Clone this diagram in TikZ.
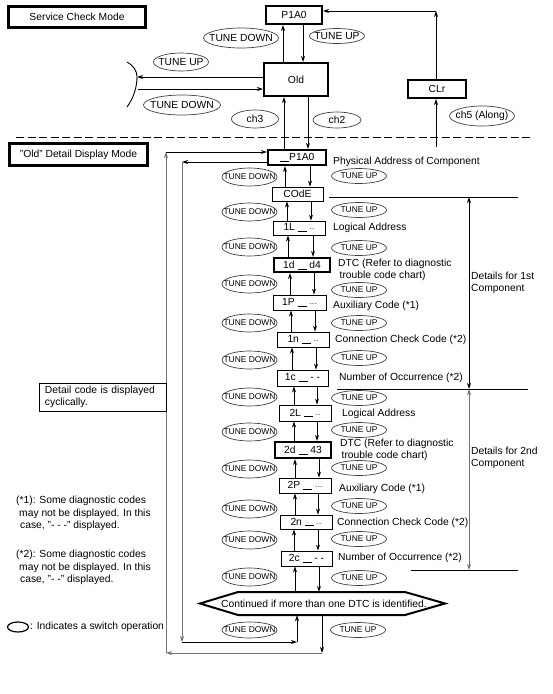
\documentclass[tikz,border=0pt]{standalone}
\usepackage{fontspec}
\setmainfont{Liberation Sans}
\usetikzlibrary{shapes.geometric,arrows.meta}

\newlength{\du}
\setlength{\du}{1pt}
\newcommand{\gap}{\rule[-1.2\du]{9\du}{0.8\du}}
\newcommand{\dsh}[1]{{\fontsize{6}{6}\selectfont #1}}
\newcommand{\sw}[1]{\makebox[0pt]{#1}}
\definecolor{dialinecolor}{rgb}{0.000000, 0.000000, 0.000000}
\definecolor{loopgray}{rgb}{0.450000, 0.450000, 0.450000}

\tikzset{
  every node/.style={font=\fontsize{10.3}{12.3}\selectfont},
  arr/.style={-{Stealth[length=6pt,width=4pt]}, line width=0.9\du},
  arrboth/.style={{Stealth[length=6pt,width=4pt]}-{Stealth[length=6pt,width=4pt]}, line width=0.9\du},
  dispbox/.style={draw, line width=0.9\du, inner sep=0pt},
  topbox/.style={dispbox, line width=2\du},
  boldbox/.style={dispbox, line width=2.2\du},
  modebox/.style={dispbox, line width=2.8\du},
  switch/.style={ellipse, draw=black!75, line width=0.7\du, inner sep=0pt},
  bigsw/.style={switch},
  smallsw/.style={switch, minimum width=55\du, font=\fontsize{8.4}{9}\selectfont},
  note/.style={anchor=west, inner sep=0pt, align=left},
}

\begin{document}
\begin{tikzpicture}
\pgftransformxscale{1.000000}
\pgftransformyscale{-1.000000}
\useasboundingbox (0\du,0\du) rectangle (552\du,694\du);
% service check mode
\node[modebox, minimum width=137\du, minimum height=21\du] (svcmode) at (77\du,17\du){Service Check Mode};
\node[topbox, minimum width=56\du, minimum height=18\du] (p1a0) at (294\du,15\du){P1A0};
\node[topbox, minimum width=64\du, minimum height=33\du] (old) at (296\du,79.5\du){Old};
\node[topbox, minimum width=58\du, minimum height=18\du] (clr) at (437\du,89\du){CLr};
\node[bigsw, minimum width=75\du, minimum height=20\du] (tdtop) at (241\du,38\du){\sw{TUNE DOWN}};
\node[bigsw, minimum width=55\du, minimum height=15\du] (tutop) at (337\du,36\du){\sw{TUNE UP}};
\node[bigsw, minimum width=55\du, minimum height=18\du] (tuleft) at (181\du,62\du){\sw{TUNE UP}};
\node[bigsw, minimum width=77\du, minimum height=20\du] (tdleft) at (182\du,105\du){\sw{TUNE DOWN}};
\node[bigsw, minimum width=47\du, minimum height=18\du] (chthree) at (255\du,119\du){\sw{ch3}};
\node[bigsw, minimum width=48\du, minimum height=16\du] (chtwo) at (337\du,120\du){\sw{ch2}};
\node[bigsw, minimum width=65\du, minimum height=20\du] (chfive) at (482\du,116\du){\sw{ch5 (Along)}};
\coordinate (brace) at (137\du,77\du);
\coordinate (bracelow) at (138\du,89\du);
\draw[line width=0.9\du] (127\du,62\du) .. controls (134\du,66\du) and (137\du,71\du) .. (brace) .. controls (137\du,88\du) and (133\du,99\du) .. (127\du,107\du);
\draw[arr] (old.west |- brace) -- (brace);
\draw[arr] (bracelow) -- (old.west |- bracelow);
\draw[arr] (283\du,0 |- old.north) -- (283\du,0 |- p1a0.south);
\draw[arr] (303\du,0 |- p1a0.south) -- (303\du,0 |- old.north);
\coordinate (clrturn) at (436\du,11\du);
\coordinate (clrin) at (436\du,147\du);
\draw[arr] (clrturn |- clr.north) -- (clrturn);
\draw[arr] (clrturn) -- (p1a0.east |- clrturn);
\draw[arr] (clrin) -- (clrin |- clr.south);
\draw[line width=0.9\du, dash pattern=on 8\du off 3.5\du] (16\du,137\du) -- (533\du,137\du);
% old detail display mode
\node[modebox, minimum width=138\du, minimum height=22\du] (oldmode) at (78.5\du,154.5\du){"Old" Detail Display Mode};
\node[boldbox, minimum width=58\du, minimum height=15\du] (p1a0d) at (297\du,157.5\du){\gap\kern0.5\du P1A0};
\node[dispbox, minimum width=51\du, minimum height=14\du] (code) at (297.5\du,194\du){COdE};
\node[dispbox, minimum width=52\du, minimum height=14\du] (onel) at (299\du,228\du){1L \gap{} \dsh{-\kern0.8\du-}};
\node[boldbox, minimum width=56\du, minimum height=14\du] (oned) at (302\du,265\du){1d \gap{} d4};
\node[dispbox, minimum width=53\du, minimum height=15\du] (onep) at (299.5\du,302.5\du){1P \gap{} \dsh{-\kern0.6\du-\kern0.6\du-}};
\node[dispbox, minimum width=52\du, minimum height=15\du] (onen) at (303\du,339.5\du){1n \gap{} \dsh{-\kern0.8\du-}};
\node[dispbox, minimum width=51\du, minimum height=16\du] (onec) at (302.5\du,378\du){1c \gap{} - -};
\node[dispbox, minimum width=52\du, minimum height=16\du] (twol) at (305\du,413\du){2L \gap{} \dsh{-\kern0.8\du-}};
\node[boldbox, minimum width=56\du, minimum height=16\du] (twod) at (303\du,450\du){2d \gap{} 43};
\node[dispbox, minimum width=52\du, minimum height=15\du] (twop) at (305\du,485.5\du){2P \gap{} \dsh{-\kern0.6\du-\kern0.6\du-}};
\node[dispbox, minimum width=52\du, minimum height=14\du] (twon) at (306\du,522\du){2n \gap{} \dsh{-\kern0.8\du-}};
\node[dispbox, minimum width=51\du, minimum height=15\du] (twoc) at (306.5\du,558.5\du){2c \gap{} - -};
\draw[line width=2\du, line join=miter] (200\du,603.5\du) -- (238\du,592\du) -- (405\du,592\du) -- (445\du,603.5\du) -- (405\du,615\du) -- (238\du,615\du) -- cycle;
\node[inner sep=0pt, minimum width=167\du, minimum height=23\du] (cont) at (324\du,603.5\du){Continued if more than one DTC is identified.};
\draw[arr] (284\du,0 |- p1a0d.north) -- (284\du,0 |- old.south);
\draw[arr] (308\du,0 |- old.south) -- (308\du,0 |- p1a0d.north);
\draw[arr] (285\du,0 |- code.north) -- (285\du,0 |- p1a0d.south);
\draw[arr] (310\du,0 |- p1a0d.south) -- (310\du,0 |- code.north);
\draw[arr] (287\du,0 |- onel.north) -- (287\du,0 |- code.south);
\draw[arr] (311\du,0 |- code.south) -- (311\du,0 |- onel.north);
\draw[arr] (288\du,0 |- oned.north) -- (288\du,0 |- onel.south);
\draw[arr] (313\du,0 |- onel.south) -- (313\du,0 |- oned.north);
\draw[arr] (290\du,0 |- onep.north) -- (290\du,0 |- oned.south);
\draw[arr] (314\du,0 |- oned.south) -- (314\du,0 |- onep.north);
\draw[arr] (291\du,0 |- onen.north) -- (291\du,0 |- onep.south);
\draw[arr] (315\du,0 |- onep.south) -- (315\du,0 |- onen.north);
\draw[arr] (292\du,0 |- onec.north) -- (292\du,0 |- onen.south);
\draw[arr] (316\du,0 |- onen.south) -- (316\du,0 |- onec.north);
\draw[arr] (294\du,0 |- twol.north) -- (294\du,0 |- onec.south);
\draw[arr] (317\du,0 |- onec.south) -- (317\du,0 |- twol.north);
\draw[arr] (294\du,0 |- twod.north) -- (294\du,0 |- twol.south);
\draw[arr] (317\du,0 |- twol.south) -- (317\du,0 |- twod.north);
\draw[arr] (295\du,0 |- twop.north) -- (295\du,0 |- twod.south);
\draw[arr] (319\du,0 |- twod.south) -- (319\du,0 |- twop.north);
\draw[arr] (295\du,0 |- twon.north) -- (295\du,0 |- twop.south);
\draw[arr] (318\du,0 |- twop.south) -- (318\du,0 |- twon.north);
\draw[arr] (294\du,0 |- twoc.north) -- (294\du,0 |- twon.south);
\draw[arr] (318\du,0 |- twon.south) -- (318\du,0 |- twoc.north);
\draw[arr] (295\du,0 |- cont.north) -- (295\du,0 |- twoc.south);
\draw[arr] (319\du,0 |- twoc.south) -- (319\du,0 |- cont.north);
% cyclic loops
\coordinate (outertop) at (166\du,152\du);
\coordinate (outerbot) at (166\du,653\du);
\coordinate (outerend) at (322\du,653\du);
\coordinate (innertop) at (182\du,162\du);
\coordinate (innerbot) at (182\du,642\du);
\coordinate (innerend) at (297\du,642\du);
\draw[arr] (outerend |- cont.south) -- (outerend);
\draw[arr, loopgray] (outerend) -- (outerbot);
\draw[arr, loopgray] (outerbot) -- (outertop);
\draw[arr] (outertop) -- (p1a0d.west |- outertop);
\draw[arr] (p1a0d.west |- innertop) -- (innertop);
\draw[arr, loopgray] (innertop) -- (innerbot);
\draw[arr] (innerbot) -- (innerend);
\draw[arr] (innerend) -- (innerend |- cont.south);
% switch operations
\node[smallsw, minimum height=18\du] (tdone) at (249.5\du,177\du){\sw{TUNE DOWN}};
\node[smallsw, minimum height=18\du] (tdtwo) at (249.5\du,212\du){\sw{TUNE DOWN}};
\node[smallsw, minimum height=18\du] (tdthree) at (249.5\du,247\du){\sw{TUNE DOWN}};
\node[smallsw, minimum height=18\du] (tdfour) at (249.5\du,284\du){\sw{TUNE DOWN}};
\node[smallsw, minimum height=18\du] (tdfive) at (249.5\du,323\du){\sw{TUNE DOWN}};
\node[smallsw, minimum height=18\du] (tdsix) at (249.5\du,360\du){\sw{TUNE DOWN}};
\node[smallsw, minimum height=18\du] (tdseven) at (249.5\du,397\du){\sw{TUNE DOWN}};
\node[smallsw, minimum height=18\du] (tdeight) at (249.5\du,432\du){\sw{TUNE DOWN}};
\node[smallsw, minimum height=18\du] (tdnine) at (249.5\du,469\du){\sw{TUNE DOWN}};
\node[smallsw, minimum height=18\du] (tdten) at (249.5\du,509\du){\sw{TUNE DOWN}};
\node[smallsw, minimum height=18\du] (tdeleven) at (249.5\du,540\du){\sw{TUNE DOWN}};
\node[smallsw, minimum height=18\du] (tdtwelve) at (249.5\du,577\du){\sw{TUNE DOWN}};
\node[smallsw, minimum height=16\du] (tdlast) at (249.5\du,630\du){\sw{TUNE DOWN}};
\node[smallsw, minimum height=15\du] (tuone) at (359\du,176\du){\sw{TUNE UP}};
\node[smallsw, minimum height=15\du] (tutwo) at (359\du,210\du){\sw{TUNE UP}};
\node[smallsw, minimum height=15\du] (tuthree) at (359\du,248\du){\sw{TUNE UP}};
\node[smallsw, minimum height=15\du] (tufour) at (359\du,290\du){\sw{TUNE UP}};
\node[smallsw, minimum height=15\du] (tufive) at (359\du,323\du){\sw{TUNE UP}};
\node[smallsw, minimum height=15\du] (tusix) at (359\du,358\du){\sw{TUNE UP}};
\node[smallsw, minimum height=15\du] (tuseven) at (359\du,398\du){\sw{TUNE UP}};
\node[smallsw, minimum height=15\du] (tueight) at (359\du,430\du){\sw{TUNE UP}};
\node[smallsw, minimum height=15\du] (tunine) at (359\du,468\du){\sw{TUNE UP}};
\node[smallsw, minimum height=15\du] (tuten) at (359\du,506\du){\sw{TUNE UP}};
\node[smallsw, minimum height=15\du] (tueleven) at (359\du,539\du){\sw{TUNE UP}};
\node[smallsw, minimum height=15\du] (tutwelve) at (359\du,578\du){\sw{TUNE UP}};
\node[smallsw, minimum height=15\du] (tulast) at (358\du,630\du){\sw{TUNE UP}};
% labels
\node[note] (physaddr) at (333\du,162\du){Physical Address of Component};
\node[note] (logone) at (333\du,228\du){Logical Address};
\node[note] (dtcone) at (338\du,270\du){DTC (Refer to diagnostic\\\hspace*{1.5\du}trouble code chart)};
\node[note] (auxone) at (333\du,306\du){Auxiliary Code (*1)};
\node[note] (conone) at (335\du,340\du){Connection Check Code (*2)};
\node[note] (numone) at (339\du,378\du){Number of Occurrence (*2)};
\node[note] (logtwo) at (342\du,414\du){Logical Address};
\node[note] (dtctwo) at (340\du,450\du){DTC (Refer to diagnostic\\\hspace*{1.5\du}trouble code chart)};
\node[note] (auxtwo) at (339\du,489\du){Auxiliary Code (*1)};
\node[note] (contwo) at (337\du,523\du){Connection Check Code (*2)};
\node[note] (numtwo) at (338\du,558\du){Number of Occurrence (*2)};
\coordinate (brtop) at (469\du,197\du);
\coordinate (brmid) at (469\du,389\du);
\coordinate (brbot) at (469\du,570\du);
\draw[line width=0.9\du] (329\du,197\du) -- (518\du,197\du);
\draw[line width=0.9\du] (337\du,389\du) -- (528\du,389\du);
\draw[line width=0.9\du] (411\du,570\du) -- (518\du,570\du);
\draw[arrboth] (brtop) -- (brmid);
\draw[arrboth, loopgray] (brmid) -- (brbot);
\node[note] (detone) at (471\du,282.5\du){Details for 1st\\Component};
\node[note] (dettwo) at (471\du,458\du){Details for 2nd\\Component};
% notes
\node[dispbox, text width=115\du, inner xsep=6\du, minimum height=28\du, align=left] (cyclic) at (102.5\du,397\du){Detail code is displayed\\cyclically.};
\node[note] (noteone) at (16\du,513.5\du){(*1): Some diagnostic codes\\\hspace*{3\du}may not be displayed. In this\\\hspace*{4\du}case, "- - -" displayed.};
\node[note] (notetwo) at (16\du,567.5\du){(*2): Some diagnostic codes\\\hspace*{3\du}may not be displayed. In this\\\hspace*{4\du}case, "- -" displayed.};
\node[ellipse, draw, line width=1.2\du, minimum width=21\du, minimum height=10\du, inner sep=0pt] (legend) at (18\du,627\du){};
\node[note] (legendtext) at (30\du,627\du){: Indicates a switch operation};
\end{tikzpicture}
\end{document}
